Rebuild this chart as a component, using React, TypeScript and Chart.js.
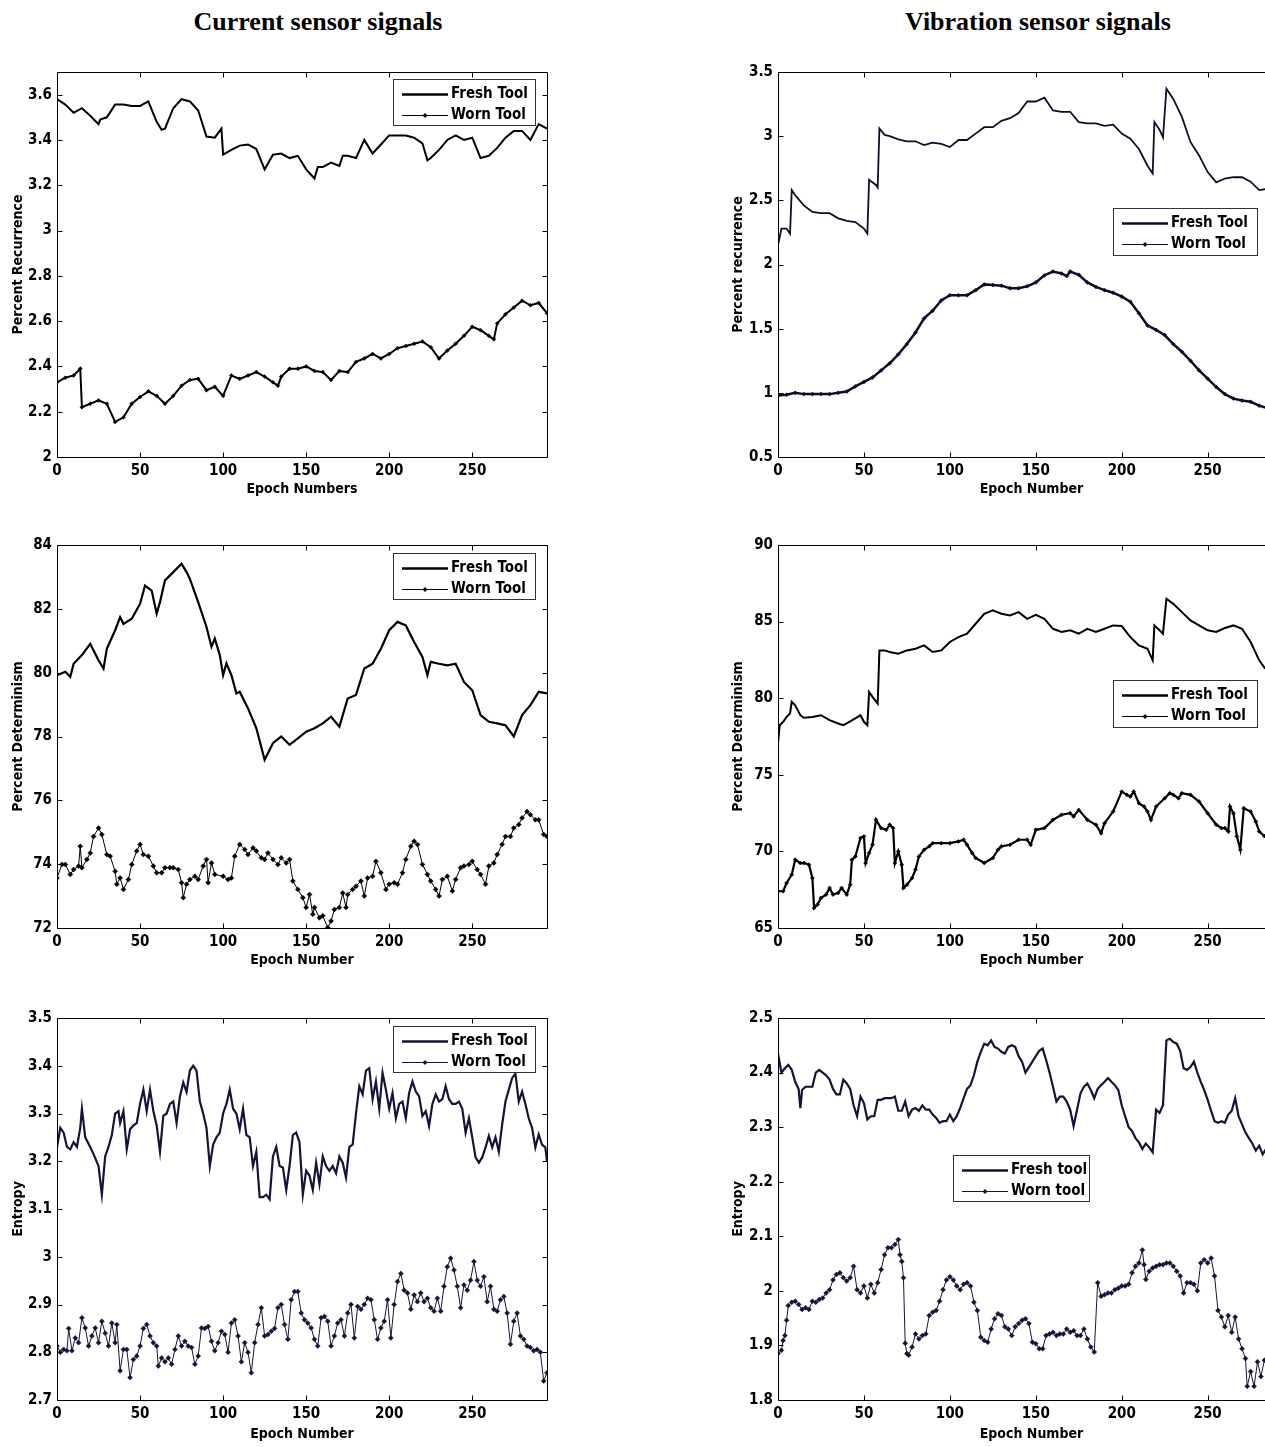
import React, { useEffect, useRef } from 'react';
import { Chart, registerables } from 'chart.js';

Chart.register(...registerables);

type Pt = [number, number];

const FONT = '"Liberation Sans Narrow", "Arial Narrow", "DejaVu Sans Condensed", sans-serif';

// ---------- tick labels ----------
const X_TICKS = [0, 50, 100, 150, 200, 250];
const Y_TICKS_CUR_REC = [2, 2.2, 2.4, 2.6, 2.8, 3, 3.2, 3.4, 3.6];
const Y_TICKS_VIB_REC = [0.5, 1, 1.5, 2, 2.5, 3, 3.5];
const Y_TICKS_CUR_DET = [72, 74, 76, 78, 80, 82, 84];
const Y_TICKS_VIB_DET = [65, 70, 75, 80, 85, 90];
const Y_TICKS_CUR_ENT = [2.7, 2.8, 2.9, 3, 3.1, 3.2, 3.3, 3.4, 3.5];
const Y_TICKS_VIB_ENT = [1.8, 1.9, 2, 2.1, 2.2, 2.3, 2.4, 2.5];

// ---------- series: [epoch, value] ----------
const curRecFresh: Pt[] = [[0,3.58],[5,3.556],[10,3.52],[15,3.54],[20,3.507],[25,3.47],[26,3.49],[30,3.5],[35,3.556],[40,3.556],[45,3.55],[50,3.55],[55,3.57],[60,3.48],[63,3.445],[65,3.45],[70,3.54],[75,3.58],[80,3.57],[85,3.53],[90,3.415],[95,3.41],[99,3.45],[100,3.335],[105,3.356],[110,3.375],[115,3.38],[120,3.36],[125,3.27],[130,3.335],[135,3.34],[140,3.32],[145,3.33],[150,3.27],[155,3.23],[157,3.28],[160,3.28],[165,3.3],[170,3.285],[172,3.33],[175,3.33],[180,3.32],[185,3.4],[190,3.34],[195,3.38],[200,3.42],[205,3.42],[210,3.42],[215,3.41],[220,3.385],[223,3.31],[225,3.32],[230,3.356],[235,3.4],[240,3.42],[245,3.4],[250,3.41],[255,3.32],[260,3.33],[265,3.365],[270,3.41],[275,3.44],[280,3.44],[285,3.4],[290,3.47],[295,3.45]];
const curRecWorn: Pt[] = [[0,2.33],[5,2.35],[10,2.36],[14,2.39],[15,2.22],[20,2.235],[25,2.25],[30,2.235],[35,2.155],[40,2.175],[45,2.235],[50,2.265],[55,2.29],[60,2.27],[65,2.235],[70,2.27],[75,2.315],[80,2.34],[85,2.345],[90,2.295],[95,2.31],[100,2.27],[105,2.36],[110,2.345],[115,2.36],[120,2.375],[125,2.355],[130,2.33],[133,2.315],[135,2.355],[140,2.39],[145,2.39],[150,2.4],[155,2.38],[160,2.375],[165,2.34],[170,2.38],[175,2.375],[180,2.42],[185,2.435],[190,2.455],[195,2.435],[200,2.455],[205,2.48],[210,2.49],[215,2.5],[220,2.51],[225,2.485],[230,2.435],[235,2.47],[240,2.5],[245,2.535],[250,2.575],[255,2.56],[260,2.535],[263,2.52],[265,2.59],[270,2.63],[275,2.66],[280,2.69],[285,2.67],[290,2.68],[295,2.635]];

const vibRecFresh: Pt[] = [[0,2.15],[2,2.28],[5,2.28],[7,2.24],[8,2.58],[10,2.54],[15,2.46],[20,2.41],[25,2.4],[30,2.4],[35,2.36],[40,2.34],[45,2.33],[50,2.28],[52,2.24],[53,2.66],[57,2.62],[58,2.6],[59,3.06],[62,3.01],[65,3.0],[70,2.975],[75,2.96],[80,2.96],[85,2.93],[90,2.95],[95,2.94],[100,2.915],[105,2.97],[110,2.97],[115,3.02],[120,3.07],[125,3.07],[130,3.12],[135,3.14],[140,3.18],[145,3.27],[150,3.27],[155,3.3],[160,3.2],[165,3.19],[170,3.19],[175,3.11],[180,3.1],[185,3.1],[190,3.08],[195,3.09],[200,3.02],[205,2.98],[210,2.9],[215,2.77],[218,2.71],[219,3.11],[222,3.05],[224,2.99],[226,3.37],[230,3.29],[235,3.15],[240,2.955],[245,2.85],[250,2.72],[255,2.64],[260,2.67],[265,2.68],[270,2.68],[275,2.645],[280,2.58],[285,2.59],[290,2.58],[295,2.6]];
const vibRecWorn: Pt[] = [[0,0.98],[5,0.985],[10,1.0],[15,0.99],[20,0.99],[25,0.99],[30,0.99],[35,1.0],[40,1.01],[45,1.05],[50,1.085],[55,1.12],[60,1.175],[65,1.23],[70,1.3],[75,1.38],[80,1.47],[85,1.58],[90,1.64],[95,1.72],[100,1.76],[105,1.76],[110,1.76],[115,1.8],[120,1.845],[125,1.84],[130,1.835],[135,1.815],[140,1.815],[145,1.83],[150,1.86],[155,1.915],[160,1.945],[165,1.93],[168,1.91],[170,1.945],[175,1.92],[180,1.86],[185,1.825],[190,1.8],[195,1.78],[200,1.75],[205,1.71],[210,1.62],[215,1.525],[220,1.49],[225,1.45],[230,1.38],[235,1.32],[240,1.25],[245,1.175],[250,1.11],[255,1.045],[260,0.99],[265,0.955],[270,0.94],[275,0.93],[280,0.9],[285,0.88],[290,0.87],[295,0.86]];

const curDetFresh: Pt[] = [[0,79.92],[5,80.03],[8,79.87],[10,80.28],[15,80.55],[20,80.9],[25,80.39],[28,80.13],[30,80.75],[35,81.33],[38,81.74],[40,81.53],[45,81.69],[50,82.16],[53,82.73],[57,82.57],[60,81.85],[62,82.21],[65,82.89],[70,83.15],[75,83.41],[78,83.15],[80,82.94],[85,82.21],[90,81.43],[93,80.81],[95,81.07],[98,80.55],[100,79.92],[102,80.29],[105,79.92],[108,79.35],[110,79.4],[115,78.88],[120,78.26],[125,77.27],[130,77.79],[135,78.0],[140,77.74],[145,77.94],[150,78.15],[155,78.26],[160,78.41],[165,78.62],[170,78.31],[175,79.19],[180,79.3],[185,80.13],[190,80.28],[195,80.75],[200,81.33],[205,81.59],[210,81.48],[215,80.96],[220,80.49],[223,79.92],[225,80.34],[230,80.28],[235,80.23],[240,80.28],[245,79.71],[250,79.45],[255,78.67],[260,78.46],[265,78.41],[270,78.35],[275,78.0],[280,78.67],[285,78.98],[290,79.4],[295,79.35]];
const curDetWorn: Pt[] = [[0,73.57],[3,73.99],[5,73.99],[8,73.68],[10,73.83],[13,73.94],[14,74.56],[15,73.89],[18,74.15],[20,74.35],[22,74.87],[25,75.13],[27,74.93],[30,74.3],[32,74.25],[35,73.78],[36,73.37],[38,73.57],[40,73.21],[43,73.52],[45,73.99],[48,74.41],[50,74.62],[52,74.3],[55,74.25],[58,73.94],[60,73.73],[63,73.73],[65,73.89],[68,73.89],[70,73.89],[73,73.83],[75,73.42],[76,72.95],[78,73.37],[80,73.52],[83,73.62],[85,73.52],[88,73.94],[90,74.15],[91,73.42],[93,74.04],[95,73.68],[100,73.62],[103,73.52],[105,73.57],[107,74.25],[110,74.62],[113,74.46],[115,74.3],[118,74.51],[120,74.41],[123,74.2],[125,74.15],[127,74.35],[130,74.15],[133,73.99],[135,74.2],[138,74.04],[140,74.15],[142,73.47],[145,73.21],[148,72.95],[150,72.64],[152,73.05],[154,72.43],[155,72.64],[158,72.32],[160,72.38],[163,72.01],[165,72.22],[167,72.58],[170,72.64],[172,73.1],[174,72.64],[175,73.05],[178,73.21],[180,73.31],[183,73.47],[185,73.0],[187,73.57],[190,73.62],[192,74.09],[195,73.73],[198,73.21],[200,73.37],[203,73.42],[205,73.37],[208,73.73],[210,74.15],[213,74.56],[215,74.72],[217,74.62],[220,73.99],[223,73.68],[225,73.47],[228,73.21],[230,73.0],[232,73.52],[235,73.62],[238,73.16],[240,73.52],[243,73.89],[245,73.94],[248,73.99],[250,74.09],[253,73.83],[255,73.68],[258,73.37],[260,73.94],[263,74.04],[265,74.3],[268,74.62],[270,74.87],[273,74.87],[275,75.13],[278,75.24],[280,75.45],[283,75.65],[285,75.55],[288,75.39],[290,75.39],[293,74.93],[295,74.87]];

const vibDetFresh: Pt[] = [[0,77.05],[1,78.24],[3,78.46],[5,78.78],[7,79.0],[8,79.76],[10,79.54],[13,78.89],[15,78.72],[20,78.78],[25,78.89],[30,78.57],[35,78.35],[38,78.24],[40,78.35],[45,78.68],[48,78.89],[50,78.46],[52,78.24],[53,80.41],[55,80.09],[58,79.65],[59,83.12],[62,83.12],[65,83.02],[70,82.91],[75,83.12],[80,83.23],[85,83.45],[90,83.02],[95,83.12],[100,83.67],[105,83.99],[110,84.21],[115,84.86],[120,85.51],[125,85.73],[130,85.51],[135,85.4],[140,85.62],[145,85.18],[150,85.44],[155,85.18],[160,84.53],[165,84.32],[170,84.43],[175,84.21],[180,84.53],[185,84.32],[190,84.53],[195,84.75],[200,84.71],[205,83.99],[210,83.45],[215,83.23],[218,82.47],[219,84.75],[222,84.43],[224,84.21],[226,86.49],[230,86.16],[235,85.62],[240,85.08],[245,84.75],[250,84.43],[255,84.32],[260,84.58],[265,84.75],[270,84.53],[275,83.67],[280,82.47],[283,82.0],[285,81.8],[290,81.5],[295,81.3]];
const vibDetWorn: Pt[] = [[0,67.4],[3,67.4],[5,67.94],[8,68.48],[10,69.46],[13,69.24],[15,69.24],[18,69.13],[20,68.26],[21,66.31],[23,66.53],[25,66.96],[28,67.18],[30,67.61],[32,67.18],[35,67.29],[37,67.61],[40,67.18],[42,67.83],[43,69.46],[45,69.67],[48,70.87],[50,70.98],[51,69.24],[53,69.89],[55,70.43],[57,72.06],[60,71.52],[63,71.41],[65,71.74],[67,71.52],[68,69.24],[70,70.0],[72,69.13],[73,67.61],[75,67.83],[78,68.26],[80,68.81],[82,69.67],[85,70.11],[88,70.33],[90,70.54],[95,70.54],[100,70.54],[105,70.65],[108,70.76],[110,70.43],[113,69.89],[115,69.57],[120,69.24],[125,69.57],[128,70.11],[130,70.33],[135,70.43],[140,70.76],[145,70.76],[147,70.43],[150,71.41],[155,71.52],[160,72.06],[165,72.39],[170,72.49],[172,72.28],[175,72.71],[180,72.06],[185,71.74],[188,71.19],[190,71.84],[195,72.6],[200,73.9],[203,73.69],[205,73.58],[207,73.9],[210,73.15],[213,72.93],[215,72.6],[217,72.06],[220,72.93],[225,73.47],[228,73.8],[230,73.69],[233,73.47],[235,73.8],[240,73.69],[245,73.25],[250,72.49],[255,71.74],[258,71.52],[260,71.52],[262,71.3],[263,72.93],[265,72.49],[267,70.98],[269,70.11],[271,72.82],[275,72.6],[278,71.95],[280,71.3],[283,71.0],[286,71.2],[290,70.9],[295,70.8]];

const curEntFresh: Pt[] = [[0,3.229],[2,3.27],[4,3.26],[6,3.23],[8,3.225],[10,3.24],[12,3.23],[14,3.27],[15,3.31],[17,3.25],[20,3.23],[22,3.215],[25,3.19],[27,3.13],[29,3.21],[31,3.23],[33,3.255],[35,3.3],[37,3.305],[38,3.28],[40,3.305],[42,3.225],[44,3.267],[46,3.275],[48,3.28],[50,3.32],[52,3.35],[54,3.305],[56,3.35],[58,3.305],[60,3.275],[62,3.22],[64,3.295],[66,3.3],[68,3.32],[70,3.325],[72,3.28],[74,3.335],[76,3.365],[78,3.345],[80,3.39],[82,3.4],[84,3.39],[86,3.325],[88,3.3],[90,3.27],[92,3.19],[94,3.235],[96,3.25],[98,3.26],[100,3.3],[102,3.32],[104,3.35],[106,3.31],[108,3.3],[110,3.267],[112,3.31],[114,3.255],[116,3.25],[118,3.19],[120,3.22],[122,3.125],[124,3.125],[126,3.13],[128,3.12],[130,3.21],[132,3.23],[134,3.19],[136,3.187],[138,3.14],[140,3.19],[142,3.255],[144,3.26],[146,3.24],[148,3.13],[150,3.18],[152,3.17],[154,3.14],[156,3.197],[158,3.152],[160,3.21],[162,3.19],[164,3.18],[166,3.19],[168,3.175],[170,3.21],[172,3.197],[174,3.166],[176,3.23],[178,3.235],[180,3.3],[182,3.357],[184,3.34],[186,3.39],[188,3.395],[190,3.33],[192,3.367],[194,3.31],[196,3.385],[198,3.35],[200,3.31],[202,3.343],[204,3.29],[206,3.32],[208,3.325],[210,3.29],[212,3.343],[214,3.367],[216,3.346],[218,3.336],[220,3.295],[222,3.305],[224,3.274],[226,3.32],[228,3.34],[230,3.325],[232,3.33],[234,3.357],[236,3.33],[238,3.32],[240,3.32],[242,3.325],[244,3.31],[246,3.26],[248,3.29],[250,3.25],[252,3.208],[254,3.197],[256,3.208],[258,3.229],[260,3.253],[262,3.229],[264,3.25],[266,3.22],[268,3.277],[270,3.325],[272,3.35],[274,3.374],[276,3.384],[278,3.325],[280,3.346],[282,3.32],[284,3.29],[286,3.27],[288,3.229],[290,3.256],[292,3.235],[294,3.229],[295,3.2]];
const curEntWorn: Pt[] = [[0,2.813],[2,2.8],[4,2.806],[6,2.803],[7,2.85],[9,2.803],[11,2.83],[13,2.82],[15,2.872],[17,2.851],[19,2.813],[21,2.834],[23,2.851],[25,2.82],[27,2.865],[29,2.84],[31,2.813],[33,2.861],[35,2.82],[36,2.858],[38,2.761],[40,2.806],[42,2.806],[44,2.747],[46,2.785],[48,2.792],[50,2.813],[52,2.85],[54,2.858],[56,2.834],[58,2.82],[60,2.813],[61,2.771],[63,2.788],[65,2.78],[67,2.788],[69,2.775],[71,2.806],[73,2.834],[75,2.813],[77,2.823],[79,2.813],[81,2.81],[83,2.775],[85,2.792],[87,2.851],[89,2.85],[91,2.854],[93,2.823],[95,2.803],[97,2.82],[99,2.844],[101,2.837],[103,2.8],[105,2.861],[107,2.868],[109,2.834],[111,2.78],[113,2.82],[115,2.8],[117,2.757],[119,2.82],[121,2.858],[123,2.893],[125,2.834],[127,2.837],[129,2.844],[131,2.85],[133,2.893],[135,2.9],[137,2.858],[139,2.827],[141,2.91],[143,2.927],[145,2.927],[147,2.882],[149,2.868],[151,2.861],[153,2.851],[155,2.827],[157,2.813],[159,2.872],[161,2.875],[163,2.865],[165,2.813],[167,2.834],[169,2.861],[171,2.868],[173,2.834],[175,2.882],[177,2.9],[179,2.83],[181,2.896],[183,2.89],[185,2.9],[187,2.913],[189,2.91],[191,2.868],[193,2.827],[195,2.851],[197,2.865],[199,2.91],[201,2.83],[203,2.9],[205,2.948],[207,2.965],[209,2.93],[211,2.924],[213,2.89],[215,2.92],[217,2.906],[219,2.924],[221,2.906],[223,2.913],[225,2.893],[227,2.886],[229,2.913],[231,2.886],[233,2.938],[235,2.979],[237,2.997],[239,2.972],[241,2.938],[243,2.893],[245,2.941],[247,2.93],[249,2.951],[251,2.99],[253,2.951],[255,2.938],[257,2.958],[259,2.906],[261,2.938],[263,2.89],[265,2.886],[267,2.91],[269,2.917],[271,2.882],[273,2.817],[275,2.865],[277,2.882],[279,2.834],[281,2.827],[283,2.813],[285,2.81],[287,2.803],[289,2.806],[291,2.8],[293,2.74],[295,2.757]];

const vibEntFresh: Pt[] = [[0,2.435],[2,2.4],[4,2.408],[6,2.414],[8,2.405],[10,2.383],[12,2.37],[13,2.335],[14,2.368],[16,2.374],[18,2.374],[20,2.374],[22,2.4],[24,2.405],[26,2.4],[28,2.395],[30,2.387],[32,2.37],[34,2.36],[36,2.36],[38,2.387],[40,2.38],[42,2.37],[44,2.34],[46,2.32],[48,2.356],[50,2.344],[52,2.314],[54,2.32],[56,2.32],[58,2.35],[60,2.35],[62,2.353],[64,2.353],[66,2.353],[68,2.356],[70,2.33],[72,2.33],[74,2.347],[76,2.32],[78,2.332],[80,2.335],[82,2.33],[84,2.34],[86,2.332],[88,2.332],[90,2.323],[92,2.317],[94,2.308],[96,2.311],[98,2.311],[100,2.323],[102,2.311],[104,2.32],[106,2.335],[108,2.353],[110,2.37],[112,2.377],[114,2.395],[116,2.42],[118,2.438],[120,2.453],[122,2.45],[124,2.459],[126,2.447],[128,2.444],[130,2.438],[132,2.435],[134,2.447],[136,2.45],[138,2.447],[140,2.43],[142,2.42],[144,2.4],[146,2.41],[148,2.42],[150,2.43],[152,2.44],[154,2.444],[156,2.423],[158,2.4],[160,2.374],[162,2.347],[164,2.356],[166,2.356],[168,2.347],[170,2.332],[172,2.302],[174,2.332],[176,2.362],[178,2.374],[180,2.38],[182,2.368],[184,2.353],[186,2.37],[188,2.377],[190,2.383],[192,2.39],[194,2.383],[196,2.377],[198,2.368],[200,2.34],[202,2.32],[204,2.3],[206,2.293],[208,2.28],[210,2.272],[212,2.26],[214,2.27],[216,2.263],[218,2.254],[220,2.332],[222,2.326],[224,2.34],[226,2.459],[228,2.462],[230,2.456],[232,2.453],[234,2.44],[236,2.408],[238,2.405],[240,2.41],[242,2.42],[244,2.4],[246,2.383],[248,2.368],[250,2.35],[252,2.33],[254,2.311],[256,2.308],[258,2.311],[260,2.308],[262,2.323],[264,2.33],[266,2.353],[268,2.32],[270,2.305],[272,2.29],[274,2.28],[276,2.27],[278,2.257],[280,2.266],[282,2.25],[284,2.26],[286,2.255],[288,2.25],[290,2.25],[295,2.245]];
const vibEntWorn: Pt[] = [[0,1.885],[2,1.891],[3,1.909],[4,1.918],[5,1.946],[6,1.973],[8,1.979],[10,1.981],[12,1.975],[14,1.966],[16,1.969],[18,1.966],[20,1.981],[22,1.979],[24,1.984],[26,1.987],[28,1.996],[30,2.002],[32,2.02],[34,2.03],[36,2.033],[38,2.024],[40,2.018],[42,2.024],[44,2.045],[46,2.002],[48,1.996],[50,2.009],[52,1.987],[54,2.012],[56,1.996],[58,2.015],[60,2.039],[62,2.066],[64,2.079],[66,2.079],[68,2.085],[70,2.094],[71,2.066],[72,2.054],[73,2.024],[74,1.904],[75,1.885],[76,1.882],[78,1.897],[80,1.921],[82,1.912],[84,1.918],[86,1.921],[88,1.955],[90,1.961],[92,1.964],[94,1.981],[96,2.002],[98,2.02],[100,2.026],[102,2.02],[104,2.009],[106,2.002],[108,2.012],[110,2.015],[112,2.009],[114,1.979],[116,1.964],[118,1.915],[120,1.909],[122,1.906],[124,1.93],[126,1.949],[128,1.958],[130,1.955],[132,1.934],[134,1.93],[136,1.918],[138,1.934],[140,1.94],[142,1.946],[144,1.949],[146,1.94],[148,1.906],[150,1.903],[152,1.894],[154,1.894],[156,1.918],[158,1.921],[160,1.924],[162,1.918],[164,1.921],[166,1.921],[168,1.93],[170,1.924],[172,1.927],[174,1.918],[176,1.918],[178,1.93],[180,1.912],[182,1.897],[184,1.888],[186,2.015],[188,1.99],[190,1.993],[192,1.996],[194,1.996],[196,2.002],[198,2.005],[200,2.009],[202,2.009],[204,2.012],[206,2.033],[208,2.045],[210,2.051],[212,2.075],[213,2.048],[214,2.021],[216,2.036],[218,2.042],[220,2.045],[222,2.048],[224,2.048],[226,2.051],[228,2.051],[230,2.045],[232,2.036],[234,2.027],[236,1.996],[238,2.015],[240,2.015],[242,2.012],[244,2.0],[246,2.051],[248,2.057],[250,2.051],[252,2.06],[254,2.027],[256,1.964],[258,1.952],[260,1.934],[262,1.955],[264,1.924],[266,1.952],[268,1.912],[270,1.894],[272,1.876],[273,1.825],[275,1.852],[277,1.825],[279,1.87],[281,1.843],[283,1.873],[285,1.86],[290,1.87],[295,1.86]];

// ---------- plugins ----------
const boxPlugin = {
  id: 'matBox',
  afterDraw(chart: any) {
    const { ctx, chartArea: a, scales } = chart;
    const L = 5;
    ctx.save();
    ctx.strokeStyle = '#000';
    ctx.lineWidth = 1;
    const l = Math.round(a.left) + 0.5;
    const r = Math.round(a.right) + 0.5;
    const t = Math.round(a.top) + 0.5;
    const b = Math.round(a.bottom) + 0.5;
    ctx.beginPath();
    ctx.rect(l, t, r - l, b - t);
    scales.x.ticks.forEach((tk: any) => {
      const px = Math.round(scales.x.getPixelForValue(tk.value)) + 0.5;
      ctx.moveTo(px, b); ctx.lineTo(px, b - L);
      ctx.moveTo(px, t); ctx.lineTo(px, t + L);
    });
    scales.y.ticks.forEach((tk: any) => {
      const py = Math.round(scales.y.getPixelForValue(tk.value)) + 0.5;
      ctx.moveTo(l, py); ctx.lineTo(l + L, py);
      ctx.moveTo(r, py); ctx.lineTo(r - L, py);
    });
    ctx.stroke();
    ctx.restore();
  },
};

const legendPlugin = {
  id: 'boxLegend',
  afterDraw(chart: any, _args: any, opts: any) {
    if (!opts || !opts.labels) return;
    const ctx = chart.ctx;
    const { x, y, w, h, labels, color } = opts;
    ctx.save();
    ctx.fillStyle = '#fff';
    ctx.fillRect(x, y, w, h);
    ctx.strokeStyle = '#333';
    ctx.lineWidth = 1;
    ctx.strokeRect(x + 0.5, y + 0.5, w, h);
    const y1 = Math.round(y + 15) + 0.5;
    const y2 = Math.round(y + 36) + 0.5;
    const lx0 = x + 9;
    const lx1 = x + 55;
    ctx.strokeStyle = color;
    ctx.lineWidth = 2.5;
    ctx.beginPath(); ctx.moveTo(lx0, y1); ctx.lineTo(lx1, y1); ctx.stroke();
    ctx.lineWidth = 1;
    ctx.beginPath(); ctx.moveTo(lx0, y2); ctx.lineTo(lx1, y2); ctx.stroke();
    const mx = (lx0 + lx1) / 2;
    ctx.fillStyle = color;
    ctx.beginPath();
    ctx.moveTo(mx, y2 - 2.5); ctx.lineTo(mx + 2.5, y2); ctx.lineTo(mx, y2 + 2.5); ctx.lineTo(mx - 2.5, y2);
    ctx.closePath(); ctx.fill();
    ctx.fillStyle = '#000';
    ctx.font = `bold 15px ${FONT}`;
    ctx.textBaseline = 'middle';
    ctx.textAlign = 'left';
    ctx.fillText(labels[0], lx1 + 3, y1);
    ctx.fillText(labels[1], lx1 + 3, y2);
    ctx.restore();
  },
};

// ---------- panels ----------
type PanelCfg = {
  left: number; width: number; padR: number; yw: number;
  plotTop: number; plotBottom: number; xh: number;
  yTitle: string; xTitle: string;
  yMin: number; yMax: number; yTicks: number[];
  fresh: Pt[]; worn: Pt[];
  color: string; freshWidth: number; wornWidth: number; markerR: number;
  legend: { x: number; y: number; w: number; h: number; labels: string[] };
};

const PAD_TOP = 22;
const PAD_BOTTOM = 6;

const PANELS: PanelCfg[] = [
  { left: 0, width: 570, padR: 23, yw: 51, plotTop: 72, plotBottom: 457, xh: 45, yTitle: 'Percent Recurrence', xTitle: 'Epoch Numbers', yMin: 2, yMax: 3.7, yTicks: Y_TICKS_CUR_REC, fresh: curRecFresh, worn: curRecWorn, color: '#000', freshWidth: 2, wornWidth: 2, markerR: 2, legend: { x: 393, y: 79, w: 142, h: 46, labels: ['Fresh Tool', 'Worn Tool'] } },
  { left: 720, width: 600, padR: 35, yw: 52, plotTop: 72, plotBottom: 457, xh: 45, yTitle: 'Percent recurrence', xTitle: 'Epoch Number', yMin: 0.5, yMax: 3.5, yTicks: Y_TICKS_VIB_REC, fresh: vibRecFresh, worn: vibRecWorn, color: '#0d0d2b', freshWidth: 1.8, wornWidth: 2.5, markerR: 2, legend: { x: 1113, y: 208, w: 144, h: 47, labels: ['Fresh Tool', 'Worn Tool'] } },
  { left: 0, width: 570, padR: 23, yw: 51, plotTop: 545, plotBottom: 928, xh: 45, yTitle: 'Percent Determinism', xTitle: 'Epoch Number', yMin: 72, yMax: 84, yTicks: Y_TICKS_CUR_DET, fresh: curDetFresh, worn: curDetWorn, color: '#000', freshWidth: 2.2, wornWidth: 1, markerR: 2.5, legend: { x: 393, y: 553, w: 142, h: 46, labels: ['Fresh Tool', 'Worn Tool'] } },
  { left: 720, width: 600, padR: 35, yw: 52, plotTop: 545, plotBottom: 928, xh: 45, yTitle: 'Percent Determinism', xTitle: 'Epoch Number', yMin: 65, yMax: 90, yTicks: Y_TICKS_VIB_DET, fresh: vibDetFresh, worn: vibDetWorn, color: '#000', freshWidth: 2, wornWidth: 2.2, markerR: 2, legend: { x: 1113, y: 680, w: 144, h: 47, labels: ['Fresh Tool', 'Worn Tool'] } },
  { left: 0, width: 570, padR: 23, yw: 51, plotTop: 1018, plotBottom: 1400, xh: 47, yTitle: 'Entropy', xTitle: 'Epoch Number', yMin: 2.7, yMax: 3.5, yTicks: Y_TICKS_CUR_ENT, fresh: curEntFresh, worn: curEntWorn, color: '#14143a', freshWidth: 2.2, wornWidth: 1, markerR: 2.5, legend: { x: 393, y: 1026, w: 142, h: 46, labels: ['Fresh Tool', 'Worn Tool'] } },
  { left: 720, width: 600, padR: 35, yw: 52, plotTop: 1018, plotBottom: 1400, xh: 47, yTitle: 'Entropy', xTitle: 'Epoch Number', yMin: 1.8, yMax: 2.5, yTicks: Y_TICKS_VIB_ENT, fresh: vibEntFresh, worn: vibEntWorn, color: '#14143a', freshWidth: 2.2, wornWidth: 1, markerR: 2.5, legend: { x: 953, y: 1155, w: 136, h: 46, labels: ['Fresh tool', 'Worn tool'] } },
];

const fmt = (v: number) => String(Number(v.toFixed(3)));

function Panel({ cfg }: { cfg: PanelCfg }) {
  const ref = useRef<HTMLCanvasElement | null>(null);
  const top = cfg.plotTop - PAD_TOP;
  const height = PAD_TOP + (cfg.plotBottom - cfg.plotTop) + cfg.xh + PAD_BOTTOM;
  useEffect(() => {
    if (!ref.current) return;
    const tickFont = { family: FONT, size: 15, weight: 'bold' as const };
    const titleFont = { family: FONT, size: 14, weight: 'bold' as const };
    const chart = new Chart(ref.current, {
      type: 'line',
      data: {
        datasets: [
          {
            label: cfg.legend.labels[0],
            data: cfg.fresh.map(([x, y]) => ({ x, y })),
            borderColor: cfg.color,
            borderWidth: cfg.freshWidth,
            pointRadius: 0,
            tension: 0,
          },
          {
            label: cfg.legend.labels[1],
            data: cfg.worn.map(([x, y]) => ({ x, y })),
            borderColor: cfg.color,
            borderWidth: cfg.wornWidth,
            pointRadius: cfg.markerR,
            pointStyle: 'rectRot',
            pointBackgroundColor: cfg.color,
            pointBorderColor: cfg.color,
            pointBorderWidth: 0.5,
            tension: 0,
          },
        ],
      },
      options: {
        responsive: false,
        animation: false,
        events: [],
        layout: { padding: { left: 6, top: PAD_TOP, right: cfg.padR, bottom: PAD_BOTTOM } },
        plugins: {
          legend: { display: false },
          tooltip: { enabled: false },
          boxLegend: {
            x: cfg.legend.x - cfg.left,
            y: cfg.legend.y - top,
            w: cfg.legend.w,
            h: cfg.legend.h,
            labels: cfg.legend.labels,
            color: cfg.color,
          },
        } as any,
        scales: {
          x: {
            type: 'linear',
            min: 0,
            max: 295,
            grid: { display: false, drawTicks: false },
            border: { display: false },
            afterBuildTicks: (s: any) => { s.ticks = X_TICKS.map((v) => ({ value: v })); },
            afterFit: (s: any) => { s.height = cfg.xh; },
            ticks: { color: '#000', font: tickFont, padding: 5, maxRotation: 0, callback: (v: any) => fmt(Number(v)) },
            title: { display: true, text: cfg.xTitle, color: '#000', font: titleFont, padding: { top: 2, bottom: 4 } },
          },
          y: {
            type: 'linear',
            min: cfg.yMin,
            max: cfg.yMax,
            grid: { display: false, drawTicks: false },
            border: { display: false },
            afterBuildTicks: (s: any) => { s.ticks = cfg.yTicks.map((v) => ({ value: v })); },
            afterFit: (s: any) => { s.width = cfg.yw; },
            ticks: { color: '#000', font: tickFont, padding: 5, callback: (v: any) => fmt(Number(v)) },
            title: { display: true, text: cfg.yTitle, color: '#000', font: titleFont, padding: { top: 4, bottom: 2 } },
          },
        },
      } as any,
      plugins: [boxPlugin, legendPlugin],
    });
    return () => chart.destroy();
  }, [cfg]);
  return (
    <canvas
      ref={ref}
      width={cfg.width}
      height={height}
      style={{ position: 'absolute', left: cfg.left, top, width: cfg.width, height }}
    />
  );
}

const titleStyle: React.CSSProperties = {
  position: 'absolute',
  top: 6,
  fontFamily: '"Liberation Serif", "Times New Roman", serif',
  fontWeight: 'bold',
  fontSize: 26,
  lineHeight: '32px',
  whiteSpace: 'nowrap',
  transform: 'translateX(-50%)',
  color: '#000',
};

export default function App() {
  return (
    <div style={{ position: 'fixed', left: 0, top: 0, width: 1265, height: 1447, overflow: 'hidden', background: '#fff' }}>
      <div style={{ ...titleStyle, left: 318 }}>Current sensor signals</div>
      <div style={{ ...titleStyle, left: 1038 }}>Vibration sensor signals</div>
      {PANELS.map((p, i) => (
        <Panel key={i} cfg={p} />
      ))}
    </div>
  );
}
